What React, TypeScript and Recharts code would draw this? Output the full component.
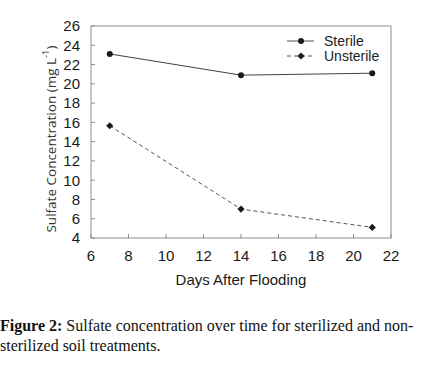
import { LineChart, Line, XAxis, YAxis, ReferenceLine } from "recharts";

// Days after flooding and sulfate concentration (mg L-1)
const days = [7, 14, 21];
const sterile = [23.1, 20.9, 21.1];
const unsterile = [15.65, 7.0, 5.1];
const xTicks = [6, 8, 10, 12, 14, 16, 18, 20, 22];
const yTicks = [4, 6, 8, 10, 12, 14, 16, 18, 20, 22, 24, 26];
const seriesNames = ["Sterile", "Unsterile"];

const data = days.map((d, i) => ({ day: d, sterile: sterile[i], unsterile: unsterile[i] }));

const ink = "#1a1a1a";
const frame = "#8c8c8c";
const sans = "'Liberation Sans', Arial, sans-serif";

const Diamond = (props: any) => {
  const { cx, cy } = props;
  if (cx == null || cy == null) return null;
  const s = 3.6;
  return (
    <path
      d={`M${cx},${cy - s}L${cx + s},${cy}L${cx},${cy + s}L${cx - s},${cy}Z`}
      fill={ink}
    />
  );
};

const YLabel = (props: any) => {
  const { viewBox } = props;
  const cx = 51;
  const cy = viewBox.y + viewBox.height / 2 + 7;
  return (
    <text
      x={cx}
      y={cy}
      transform={`rotate(-90 ${cx} ${cy})`}
      textAnchor="middle"
      dominantBaseline="central"
      fontFamily="'Open Sans', sans-serif"
      fontSize={13.5}
      fill="#333"
    >
      Sulfate Concentration (mg L
      <tspan dy={-6} fontSize={9.5}>-1</tspan>
      <tspan dy={6}>)</tspan>
    </text>
  );
};

const LegendBox = () => (
  <svg width={112} height={34} style={{ display: "block" }}>
    <line x1={0} y1={9} x2={27} y2={9} stroke="#555" strokeWidth={1} />
    <circle cx={14} cy={9} r={3} fill={ink} />
    <text x={37} y={9} dominantBaseline="central" fontFamily={sans} fontSize={14} fill="#222">
      {seriesNames[0]}
    </text>
    <line x1={0} y1={24} x2={27} y2={24} stroke="#555" strokeWidth={1} strokeDasharray="4 3" />
    <Diamond cx={14} cy={24} />
    <text x={37} y={24} dominantBaseline="central" fontFamily={sans} fontSize={14} fill="#222">
      {seriesNames[1]}
    </text>
  </svg>
);

export default function App() {
  return (
    <div style={{ position: "absolute", left: 0, top: 0, width: 434, height: 365, background: "#fff" }}>
      <LineChart
        width={434}
        height={300}
        data={data}
        margin={{ top: 26, right: 43, left: 0, bottom: 0 }}
      >
        <XAxis
          dataKey="day"
          type="number"
          domain={[6, 22]}
          ticks={xTicks}
          interval={0}
          height={62}
          tickSize={-4}
          tickMargin={16}
          stroke={frame}
          tick={{ fill: ink, fontSize: 15, fontFamily: sans }}
          label={{
            value: "Days After Flooding",
            position: "insideBottom",
            offset: 15,
            fill: ink,
            fontSize: 15,
            fontFamily: sans,
          }}
        />
        <YAxis
          type="number"
          domain={[4, 26]}
          ticks={yTicks}
          interval={0}
          width={91}
          tickSize={-4}
          tickMargin={15}
          stroke={frame}
          tick={{ fill: ink, fontSize: 15, fontFamily: sans }}
          label={<YLabel />}
        />
        <ReferenceLine y={26} stroke={frame} />
        <ReferenceLine x={22} stroke={frame} />
        <Line
          dataKey="sterile"
          name={seriesNames[0]}
          stroke="#444"
          strokeWidth={1}
          dot={{ r: 3, fill: ink, stroke: ink, strokeWidth: 0 }}
          isAnimationActive={false}
        />
        <Line
          dataKey="unsterile"
          name={seriesNames[1]}
          stroke="#555"
          strokeWidth={1}
          strokeDasharray="4 3"
          dot={<Diamond />}
          isAnimationActive={false}
        />
      </LineChart>
      <div style={{ position: "absolute", left: 287, top: 32 }}>
        <LegendBox />
      </div>
      <div
        style={{
          position: "absolute",
          left: 0,
          top: 316,
          width: 434,
          fontFamily: "'Liberation Serif', 'Times New Roman', serif",
          fontSize: 16,
          lineHeight: "20px",
          color: "#111",
        }}
      >
        <b>Figure 2:</b> Sulfate concentration over time for sterilized and non-
        <br />
        sterilized soil treatments.
      </div>
    </div>
  );
}
